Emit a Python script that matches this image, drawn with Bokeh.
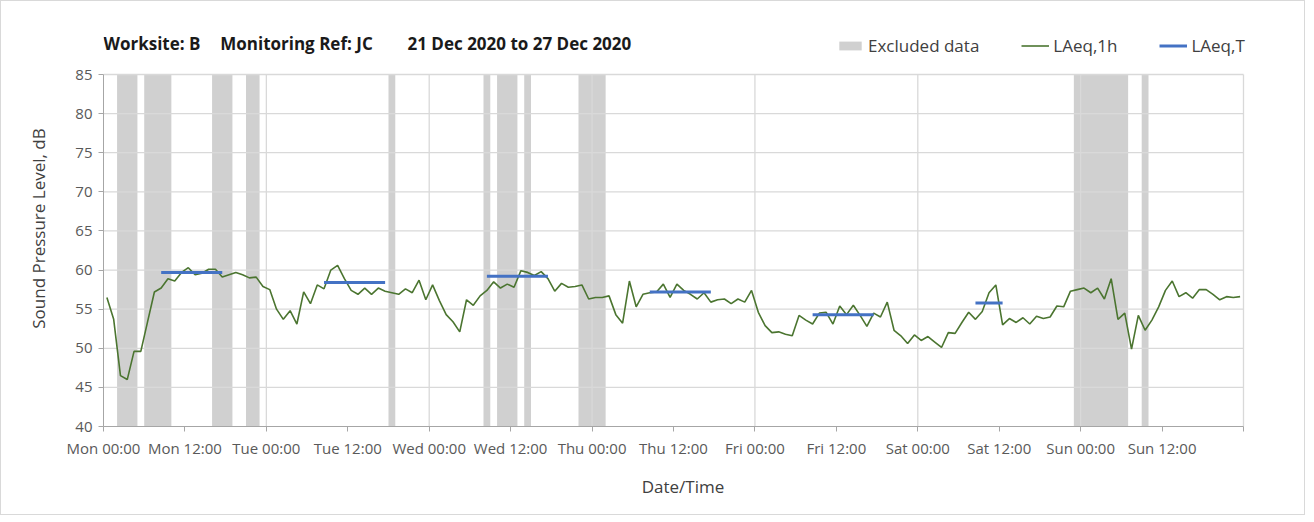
import numpy as np
from bokeh.plotting import figure
from bokeh.models import Range1d, FixedTicker, Legend, LegendItem, Label
from bokeh.embed import file_html
from bokeh.resources import INLINE

# ---------------- data ----------------
# hourly LAeq,1h values (hour-centred, Mon 00:30 .. Sun 23:30)
laeq_1h = [
    56.5, 53.7, 46.5, 46.0, 49.6, 49.6, 53.4, 57.2, 57.7, 58.9,
    58.6, 59.7, 60.3, 59.4, 59.6, 60.1, 60.1, 59.1, 59.4, 59.7,
    59.4, 59.0, 59.1, 57.9, 57.5, 55.0, 53.7, 54.8, 53.1, 57.2,
    55.7, 58.1, 57.6, 60.0, 60.6, 58.9, 57.4, 56.9, 57.7, 56.9,
    57.7, 57.3, 57.1, 56.9, 57.6, 57.1, 58.7, 56.2, 58.1, 56.1,
    54.3, 53.4, 52.1, 56.2, 55.5, 56.7, 57.4, 58.5, 57.7, 58.2,
    57.8, 59.9, 59.7, 59.3, 59.8, 58.9, 57.3, 58.3, 57.8, 57.9,
    58.1, 56.3, 56.5, 56.5, 56.7, 54.3, 53.2, 58.6, 55.3, 56.9,
    57.1, 57.2, 58.2, 56.5, 58.2, 57.4, 56.9, 56.3, 57.1, 55.9,
    56.2, 56.3, 55.7, 56.3, 55.9, 57.4, 54.6, 52.9, 52.0, 52.1,
    51.8, 51.6, 54.2, 53.6, 53.1, 54.5, 54.6, 53.1, 55.4, 54.3,
    55.5, 54.2, 52.8, 54.5, 54.0, 55.9, 52.3, 51.6, 50.6, 51.7,
    51.0, 51.5, 50.8, 50.1, 52.0, 51.9, 53.3, 54.6, 53.7, 54.7,
    57.1, 58.1, 53.0, 53.8, 53.3, 53.9, 53.1, 54.1, 53.8, 54.0,
    55.4, 55.3, 57.3, 57.5, 57.7, 57.1, 57.7, 56.3, 58.9, 53.7,
    54.5, 49.9, 54.2, 52.3, 53.6, 55.3, 57.4, 58.6, 56.6, 57.1,
    56.4, 57.5, 57.5, 56.9, 56.2, 56.6, 56.5, 56.6,
]
hours = np.arange(len(laeq_1h)) + 0.5  # hours since Mon 00:00

# excluded-data periods (hours since Mon 00:00)
excl_start = [2, 6, 16, 21, 42, 56, 58, 62, 70, 143, 153]
excl_end = [5, 10, 19, 23, 43, 57, 61, 63, 74, 151, 154]

# LAeq,T periods
laeqT_start = [8.5, 32.5, 56.5, 80.5, 104.5, 128.5]
laeqT_end = [17.5, 41.5, 65.5, 89.5, 113.5, 132.5]
laeqT_value = [59.7, 58.4, 59.2, 57.2, 54.3, 55.8]

tick_hours = list(range(0, 169, 12))
tick_labels = ["Mon 00:00", "Mon 12:00", "Tue 00:00", "Tue 12:00",
               "Wed 00:00", "Wed 12:00", "Thu 00:00", "Thu 12:00",
               "Fri 00:00", "Fri 12:00", "Sat 00:00", "Sat 12:00",
               "Sun 00:00", "Sun 12:00", ""]
grid_hours = list(range(24, 169, 24))
y_ticks = list(range(40, 90, 5))
X_MIN, X_MAX = 0, 168
Y_MIN, Y_MAX = 40, 85

title_parts = ["Worksite: B", "Monitoring Ref: JC", "21 Dec 2020 to 27 Dec 2020"]

FONT = "Open Sans"
TICK_COL = "#595959"
TEXT_COL = "#404040"
GRID_COL = "#d9d9d9"

# frame is extended above/right of the data area so that the header
# (title + legend) can live inside it without being clipped
p = figure(width=1303, height=513, output_backend="svg", toolbar_location=None,
           frame_width=1159, frame_height=396,
           x_range=Range1d(0, 168 * 1159 / 1140),
           y_range=Range1d(40, 40 + 45 * 396 / 352))
p.min_border_left = 102
p.min_border_right = 42
p.min_border_top = 29
p.min_border_bottom = 88
p.outline_line_color = None
p.background_fill_color = "white"
p.border_fill_color = "white"
p.xgrid.visible = False
p.ygrid.visible = False
p.styles = {"border": "1px solid #d9d9d9"}

# excluded bands
excl = p.quad(left=excl_start, right=excl_end, bottom=Y_MIN, top=Y_MAX,
              fill_color="#d0d0d0", line_color=None, level="image")

# grid lines (restricted to the data area)
p.segment(x0=X_MIN, x1=X_MAX, y0=y_ticks[1:], y1=y_ticks[1:],
          line_color=GRID_COL, line_width=1.3, level="underlay")
p.segment(x0=grid_hours, x1=grid_hours, y0=Y_MIN, y1=Y_MAX,
          line_color=GRID_COL, line_width=1.3, level="underlay")

# LAeq,1h
ln = p.line(hours, laeq_1h, line_color="#4b7530", line_width=1.6)

# LAeq,T
seg = p.segment(x0=laeqT_start, x1=laeqT_end, y0=laeqT_value, y1=laeqT_value,
                line_color="#4472c4", line_width=3)

# axes
p.xaxis.ticker = FixedTicker(ticks=tick_hours)
p.xaxis.major_label_overrides = {h: l for h, l in zip(tick_hours, tick_labels)}
p.yaxis.ticker = FixedTicker(ticks=y_ticks)
p.xaxis.bounds = (X_MIN, X_MAX)
p.yaxis.bounds = (Y_MIN, Y_MAX)

for ax in (p.xaxis, p.yaxis):
    ax.axis_line_color = "#a6a6a6"
    ax.major_tick_line_color = "#a6a6a6"
    ax.major_tick_out = 5
    ax.major_tick_in = 0
    ax.minor_tick_out = 0
    ax.minor_tick_in = 0
    ax.major_label_text_font = FONT
    ax.major_label_text_font_size = "15px"
    ax.major_label_text_color = TICK_COL
    ax.axis_label_text_font = FONT
    ax.axis_label_text_font_size = "17px"
    ax.axis_label_text_font_style = "normal"
    ax.axis_label_text_color = TEXT_COL
    ax.major_label_standoff = 6

p.xaxis.axis_label = "Date/Time"
p.yaxis.axis_label = "Sound Pressure Level, dB"
p.xaxis.axis_label_standoff = 14
p.yaxis.axis_label_standoff = 22

# title texts
for xp, txt in zip([0, 17.2, 44.8], title_parts):
    p.add_layout(Label(x=xp, y=88.9, text=txt, text_font=FONT,
                       text_font_size="17px", text_font_style="bold",
                       text_color="#1a1a1a", text_baseline="middle",
                       text_align="left"))

legend = Legend(items=[LegendItem(label="Excluded data", renderers=[excl]),
                       LegendItem(label="LAeq,1h", renderers=[ln]),
                       LegendItem(label="LAeq,T", renderers=[seg])],
                orientation="horizontal", location=(733, 369),
                padding=0, margin=0, spacing=42, label_standoff=4,
                glyph_width=28, glyph_height=11,
                label_text_font=FONT, label_text_font_size="17px",
                label_text_color=TEXT_COL,
                background_fill_alpha=0, border_line_color=None)
p.add_layout(legend, "center")

open("out.html", "w").write(file_html(p, INLINE))
